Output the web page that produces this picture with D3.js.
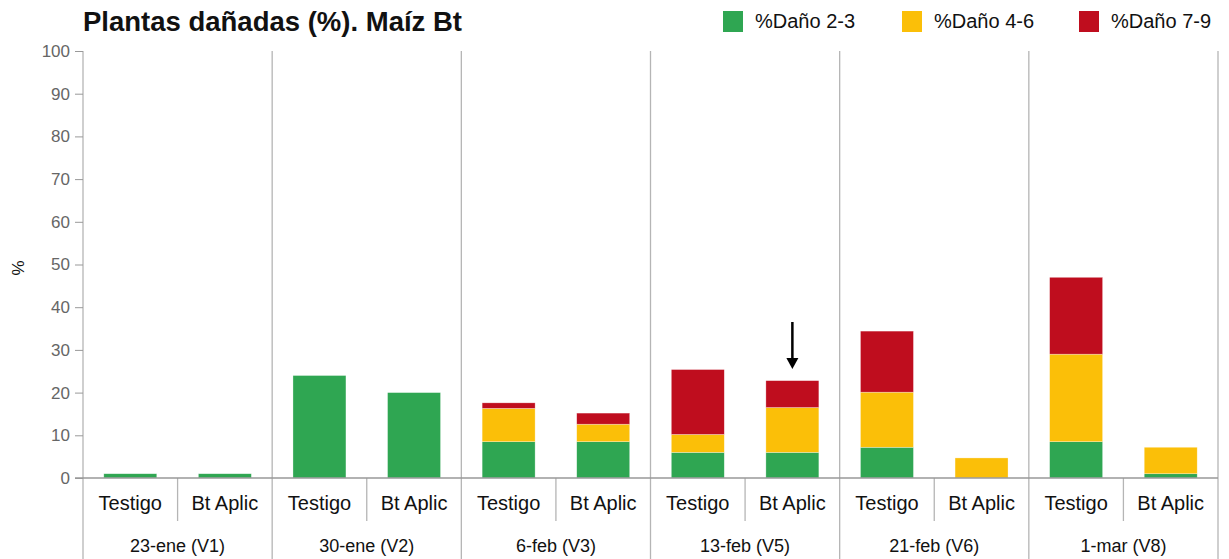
<!DOCTYPE html>
<html lang="es">
<head>
<meta charset="utf-8">
<title>Plantas dañadas (%). Maíz Bt</title>
<script src="https://cdn.jsdelivr.net/npm/d3@7"></script>
<style>
  body { margin: 0; background: #fff; }
  text { font-family: "Liberation Sans", Arial, sans-serif; }
</style>
</head>
<body>
<script>
// data
var fechas = ["23-ene (V1)", "30-ene (V2)", "6-feb (V3)", "13-feb (V5)", "21-feb (V6)", "1-mar (V8)"];
var tratamientos = ["Testigo", "Bt Aplic"];
var series = ["%Daño 2-3", "%Daño 4-6", "%Daño 7-9"];
var colores = ["#2fa652", "#fbbf08", "#bf0d1e"];
// values in order fecha x tratamiento
var dano23 = [1, 1, 24, 20, 8.5, 8.5, 6, 6, 7.2, 0, 8.5, 1];
var dano46 = [0, 0, 0, 0, 7.8, 4.1, 4.2, 10.5, 12.9, 4.7, 20.5, 6.2];
var dano79 = [0, 0, 0, 0, 1.3, 2.6, 15.2, 6.3, 14.3, 0, 18, 0];
var yTicks = [0, 10, 20, 30, 40, 50, 60, 70, 80, 90, 100];

var w = 1229, h = 559;
var padLeft = 83, padRight = 1218, padTop = 51, baseY = 478;

var rows = [];
fechas.forEach(function(f, i) {
  tratamientos.forEach(function(t, j) {
    var k = i * 2 + j;
    rows.push({ fecha: f, trat: t, s0: dano23[k], s1: dano46[k], s2: dano79[k] });
  });
});

var stacked = d3.stack().keys(["s0", "s1", "s2"])(rows);

var x0 = d3.scaleBand().domain(fechas).range([padLeft, padRight]);
var x1 = d3.scaleBand().domain(tratamientos).range([0, x0.bandwidth()]).paddingInner(0.44).paddingOuter(0.22);
var y = d3.scaleLinear().domain([0, 100]).range([baseY, padTop]);

var svg = d3.select("body").append("svg").attr("width", w).attr("height", h);

// title
svg.append("text").attr("x", 83).attr("y", 31)
  .attr("font-size", 27.5).attr("font-weight", "bold").attr("fill", "#111")
  .text("Plantas dañadas (%). Maíz Bt");

// legend
var legX = [723, 902, 1079];
var leg = svg.append("g");
series.forEach(function(s, i) {
  leg.append("rect").attr("x", legX[i]).attr("y", 11).attr("width", 20).attr("height", 21).attr("fill", colores[i]);
  leg.append("text").attr("x", legX[i] + 32).attr("y", 28).attr("font-size", 20).attr("fill", "#111").text(s);
});

// group separators
svg.append("g").selectAll("line")
  .data(fechas.concat(["end"]))
  .enter().append("line")
  .attr("x1", function(d) { return d === "end" ? padRight : x0(d); })
  .attr("x2", function(d) { return d === "end" ? padRight : x0(d); })
  .attr("y1", padTop).attr("y2", h)
  .attr("stroke", "#b5b5b5").attr("stroke-width", 1.3);

// sub separators
svg.append("g").selectAll("line")
  .data(fechas)
  .enter().append("line")
  .attr("x1", function(d) { return x0(d) + x0.bandwidth() / 2; })
  .attr("x2", function(d) { return x0(d) + x0.bandwidth() / 2; })
  .attr("y1", baseY).attr("y2", 521)
  .attr("stroke", "#b5b5b5").attr("stroke-width", 1.3);

// y axis
var yAxis = d3.axisLeft(y).tickValues(yTicks).tickSize(8).tickPadding(5);
var gy = svg.append("g").attr("transform", "translate(" + padLeft + ",0)").call(yAxis);
gy.select(".domain").remove();
gy.selectAll(".tick line").attr("stroke", "#999");
gy.selectAll(".tick text").attr("font-size", 17).attr("fill", "#666")
  .attr("font-family", "Liberation Sans, Arial, sans-serif");

svg.append("text").attr("transform", "translate(24,268) rotate(-90)")
  .attr("text-anchor", "middle").attr("font-size", 17).attr("fill", "#111").text("%");

// bars
svg.append("g").selectAll("g")
  .data(stacked)
  .enter().append("g")
  .attr("fill", function(d, i) { return colores[i]; })
  .selectAll("rect")
  .data(function(d) { return d; })
  .enter().append("rect")
  .attr("x", function(d) { return x0(d.data.fecha) + x1(d.data.trat); })
  .attr("y", function(d) { return y(d[1]); })
  .attr("width", x1.bandwidth())
  .attr("height", function(d) { return y(d[0]) - y(d[1]); })
  .attr("stroke", "#fff").attr("stroke-opacity", 0.5).attr("stroke-width", 0.6);

// baseline
svg.append("line").attr("x1", padLeft - 8).attr("x2", padRight).attr("y1", baseY).attr("y2", baseY)
  .attr("stroke", "#999").attr("stroke-width", 1.3);

// treatment labels
svg.append("g").selectAll("text")
  .data(rows)
  .enter().append("text")
  .attr("x", function(d) { return x0(d.fecha) + x1(d.trat) + x1.bandwidth() / 2; })
  .attr("y", 510)
  .attr("text-anchor", "middle").attr("font-size", 20).attr("fill", "#111")
  .text(function(d) { return d.trat; });

// date labels
svg.append("g").selectAll("text")
  .data(fechas)
  .enter().append("text")
  .attr("x", function(d) { return x0(d) + x0.bandwidth() / 2; })
  .attr("y", 552)
  .attr("text-anchor", "middle").attr("font-size", 18).attr("fill", "#111")
  .text(function(d) { return d; });

// arrow over 13-feb Bt Aplic
var arrowX = x0("13-feb (V5)") + x1("Bt Aplic") + x1.bandwidth() / 2;
svg.append("line").attr("x1", arrowX).attr("x2", arrowX).attr("y1", 322).attr("y2", 360)
  .attr("stroke", "#000").attr("stroke-width", 2.5);
svg.append("path")
  .attr("d", "M" + (arrowX - 6) + ",358 L" + (arrowX + 6) + ",358 L" + arrowX + ",369 Z")
  .attr("fill", "#000");
</script>
</body>
</html>
